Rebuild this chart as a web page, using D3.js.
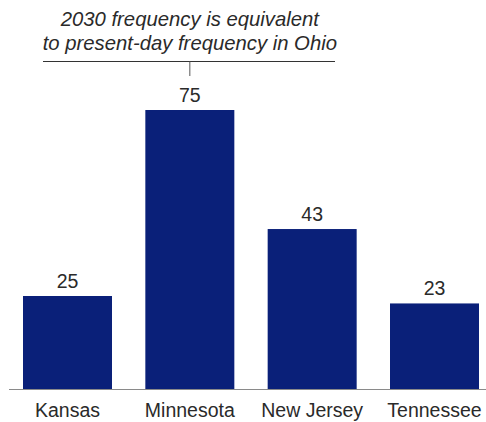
<!DOCTYPE html>
<html><head><meta charset="utf-8">
<script src="https://cdn.jsdelivr.net/npm/d3@7"></script>
<style>body{margin:0;background:#fff}svg{display:block}text{font-family:"Liberation Sans",Arial,sans-serif}</style>
</head><body>
<svg id="c" width="486" height="422"></svg>
<script>
const categories = ["Kansas","Minnesota","New Jersey","Tennessee"];
const values = [25,75,43,23];
const annotationLines = ["2030 frequency is equivalent","to present-day frequency in Ohio"];
const annotatedCategory = "Minnesota";

const svg = d3.select("#c");
const baseY = 389;
const x = d3.scaleBand().domain(categories).range([23,479]).paddingInner(0.2725).paddingOuter(0);
const y = d3.scaleLinear().domain([0,75]).range([baseY, baseY-279]);

svg.selectAll("rect.bar").data(categories).join("rect")
  .attr("x", d=>x(d)).attr("width", x.bandwidth())
  .attr("y", (d,i)=>y(values[i])).attr("height",(d,i)=>baseY-y(values[i]))
  .attr("fill","#0a2079");

svg.append("line").attr("x1",9).attr("x2",486).attr("y1",baseY+0.5).attr("y2",baseY+0.5)
  .attr("stroke","#8a8a8a").attr("stroke-width",1);

svg.selectAll("text.val").data(categories).join("text")
  .attr("x", d=>x(d)+x.bandwidth()/2).attr("y",(d,i)=>y(values[i])-8)
  .attr("text-anchor","middle").attr("font-size",19.5).attr("fill","#2a2a2a")
  .text((d,i)=>values[i]);

svg.selectAll("text.cat").data(categories).join("text")
  .attr("x", d=>x(d)+x.bandwidth()/2).attr("y",417)
  .attr("text-anchor","middle").attr("font-size",19.5).attr("fill","#2a2a2a")
  .text(d=>d);

const cx = x(annotatedCategory)+x.bandwidth()/2;
svg.selectAll("text.ann").data(annotationLines).join("text")
  .attr("x", cx).attr("y",(d,i)=>26+i*24)
  .attr("text-anchor","middle").attr("font-size",20.3).attr("font-style","italic").attr("fill","#2a2a2a")
  .text(d=>d);
svg.append("line").attr("x1",43).attr("x2",335).attr("y1",61.5).attr("y2",61.5).attr("stroke","#333");
svg.append("line").attr("x1",cx).attr("x2",cx).attr("y1",61.5).attr("y2",76).attr("stroke","#555");
</script>
</body></html>
